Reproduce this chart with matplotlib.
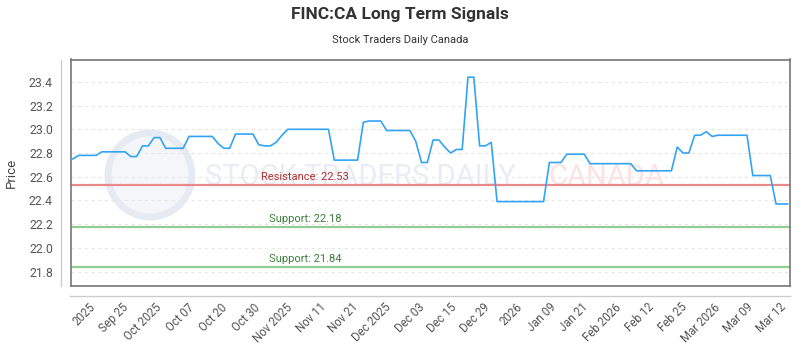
import numpy as np
import matplotlib
matplotlib.use('Agg')
import matplotlib.pyplot as plt
from matplotlib.lines import Line2D
from matplotlib.patches import Ellipse

# closing prices (one value per trading day)
prices = [22.75,
          22.78, 22.78, 22.78, 22.78,
          22.81, 22.81, 22.81, 22.81, 22.81,
          22.77, 22.77,
          22.86, 22.86,
          22.93, 22.93,
          22.84, 22.84, 22.84, 22.84,
          22.94, 22.94, 22.94, 22.94, 22.94,
          22.88,
          22.84, 22.84,
          22.96, 22.96, 22.96, 22.96,
          22.87,
          22.86, 22.86,
          22.89,
          22.95,
          23.00, 23.00, 23.00, 23.00, 23.00, 23.00, 23.00, 23.00,
          22.74, 22.74, 22.74, 22.74, 22.74,
          23.06,
          23.07, 23.07, 23.07,
          22.99, 22.99, 22.99, 22.99, 22.99,
          22.90,
          22.72, 22.72,
          22.91, 22.91,
          22.85,
          22.80,
          22.83, 22.83,
          23.44, 23.44,
          22.86, 22.86,
          22.89,
          22.39, 22.39, 22.39, 22.39, 22.39, 22.39, 22.39, 22.39, 22.39,
          22.72, 22.72, 22.72,
          22.79, 22.79, 22.79, 22.79,
          22.71, 22.71, 22.71, 22.71, 22.71, 22.71, 22.71, 22.71,
          22.65, 22.65, 22.65, 22.65, 22.65, 22.65, 22.65,
          22.85,
          22.80, 22.80,
          22.95, 22.95,
          22.98,
          22.94,
          22.95, 22.95, 22.95, 22.95, 22.95, 22.95,
          22.61, 22.61, 22.61, 22.61,
          22.37, 22.37, 22.37]

tick_labels = ['2025', 'Sep 25', 'Oct 2025', 'Oct 07', 'Oct 20', 'Oct 30',
               'Nov 2025', 'Nov 11', 'Nov 21', 'Dec 2025', 'Dec 03', 'Dec 15',
               'Dec 29', '2026', 'Jan 09', 'Jan 21', 'Feb 2026', 'Feb 12',
               'Feb 25', 'Mar 2026', 'Mar 09', 'Mar 12']

resistance = [22.53]
supports = [22.18, 21.84]

plt.rcParams['font.family'] = ['Roboto', 'DejaVu Sans']

fig = plt.figure(figsize=(8, 3.5), dpi=100)
ax = fig.add_axes([71 / 800, 64 / 350, 719 / 800, 226.5 / 350])

x = np.arange(len(prices))

# faint watermark (logo circle + text), kept behind the axes
fig.add_artist(Ellipse((150 / 800, 175 / 350), 84 / 800, 84 / 350,
                       facecolor='#f4f6fa', edgecolor='#e6ebf3', lw=5, zorder=-1))
ax.text(22.8, 22.6, 'STOCK TRADERS DAILY', fontsize=21, color='#e9edf3',
        va='center', ha='left', zorder=0.6)
ax.text(81.8, 22.6, 'CANADA', fontsize=21, color='#fbe3e3',
        va='center', ha='left', zorder=0.6)

ax.plot(x, prices, color='#33a3f4', lw=1.2, zorder=3)

for r in resistance:
    ax.axhline(r, color='#e88a8a', lw=1.6, zorder=2)
    ax.text(40, r + 0.025, 'Resistance: %.2f' % r, color='#b03030', fontsize=8,
            ha='center', va='bottom', zorder=4)
for s in supports:
    ax.axhline(s, color='#93cc93', lw=1.6, zorder=2)
    ax.text(40, s + 0.025, 'Support: %.2f' % s, color='#3d7f3d', fontsize=8,
            ha='center', va='bottom', zorder=4)

ax.set_xlim(-0.3, 123.4)
ax.set_ylim(21.678, 23.589)
ax.set_yticks(np.arange(21.8, 23.41, 0.2))
ax.set_yticklabels(['%.1f' % v for v in np.arange(21.8, 23.41, 0.2)])
ax.grid(axis='y', color='#e6e6e6', linestyle=(0, (3, 3)), lw=0.8)
ax.set_axisbelow(True)
ax.patch.set_alpha(0)

ax.set_xticks(np.linspace(3.6, 122.3, len(tick_labels)))
ax.set_xticklabels(tick_labels, rotation=45, ha='right', va='center',
                   rotation_mode='anchor')
ax.tick_params(axis='x', length=0, pad=14, labelsize=8.3, labelcolor='#555555')
ax.tick_params(axis='y', length=0, pad=13, labelsize=8.8, labelcolor='#555555')

for sp in ax.spines.values():
    sp.set_color('#777777')
    sp.set_linewidth(1.2)

ax.set_ylabel('Price', fontsize=9.5, color='#444444', labelpad=8)

# separate light axis lines outside the box
fig.add_artist(Line2D([60.5 / 800, 60.5 / 800], [64 / 350, 290 / 350],
                      color='#cccccc', lw=1))
fig.add_artist(Line2D([70 / 800, 790 / 800], [54 / 350, 54 / 350],
                      color='#cccccc', lw=1))

fig.text(0.5, 1 - 15 / 350, 'FINC:CA Long Term Signals', ha='center', va='center',
         fontsize=12.5, fontweight='bold', color='#333333')
fig.text(0.5, 1 - 40 / 350, 'Stock Traders Daily Canada', ha='center', va='center',
         fontsize=8, color='#333333')

fig.savefig('out.png', dpi=100)
